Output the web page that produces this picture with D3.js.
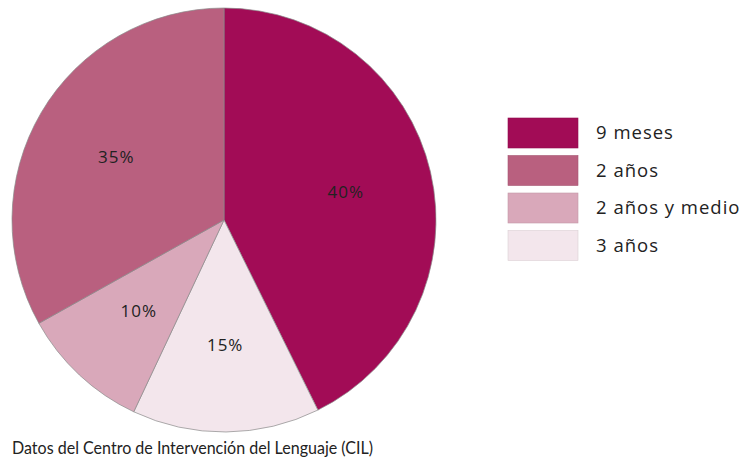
<!DOCTYPE html>
<html>
<head>
<meta charset="utf-8">
<script src="https://cdn.jsdelivr.net/npm/d3@7"></script>
<style>
  body { margin: 0; background: #fff; }
  text { font-family: "Open Sans", Lato, sans-serif; fill: #222; }
</style>
</head>
<body>
<svg width="747" height="465"></svg>
<script>
// slice order, clockwise from 12 o'clock
var categories = ["9 meses", "3 años", "2 años y medio", "2 años"];
// slice sizes as drawn in the picture
var shares = [42.7, 14.3, 9.9, 33.1];
var labels = ["40%", "15%", "10%", "35%"];
var colors = ["#a20c56", "#f3e6ec", "#d9a8ba", "#b9607f"];
// legend order
var legendOrder = ["9 meses", "2 años", "2 años y medio", "3 años"];
var source = "Datos del Centro de Intervención del Lenguaje (CIL)";

var svg = d3.select('svg');
var cx = 224, cy = 220, r = 212;

var color = d3.scaleOrdinal().domain(categories).range(colors);

var pie = d3.pie().sort(null).value(d => d.v);
var arcs = pie(categories.map((c, i) => ({ c: c, v: shares[i], label: labels[i] })));

var arc = d3.arc().innerRadius(0).outerRadius(r);
var labelArc = d3.arc().innerRadius(110).outerRadius(140);

var g = svg.append('g').attr('transform', 'translate(' + cx + ',' + cy + ')');

g.selectAll('path')
  .data(arcs)
  .enter()
  .append('path')
    .attr('d', arc)
    .attr('fill', d => color(d.data.c))
    .attr('stroke', '#8a8a8a')
    .attr('stroke-width', 0.7);

g.selectAll('text')
  .data(arcs)
  .enter()
  .append('text')
    .attr('transform', d => 'translate(' + labelArc.centroid(d) + ')')
    .attr('text-anchor', 'middle')
    .attr('dy', '0.35em')
    .style('font-size', '17px')
    .style('letter-spacing', '1px')
    .text(d => d.data.label);

var legend = svg.append('g').attr('transform', 'translate(508,118)');
var row = d3.scaleBand().domain(legendOrder).range([0, 150]);

var item = legend.selectAll('g')
  .data(legendOrder)
  .enter()
  .append('g')
    .attr('transform', d => 'translate(0,' + row(d) + ')');

item.append('rect')
  .attr('width', 70)
  .attr('height', 30)
  .attr('fill', d => color(d))
  .attr('stroke', d => d3.color(color(d)).darker(0.3))
  .attr('stroke-width', 0.6);

item.append('text')
  .attr('x', 88)
  .attr('y', 21)
  .style('font-size', '18.5px')
  .style('letter-spacing', '1px')
  .text(d => d);

svg.append('text')
  .attr('x', 12)
  .attr('y', 454)
  .attr('textLength', 361)
  .attr('lengthAdjust', 'spacingAndGlyphs')
  .style('font-family', 'Lato, sans-serif')
  .style('font-size', '17px')
  .text(source);
</script>
</body>
</html>
